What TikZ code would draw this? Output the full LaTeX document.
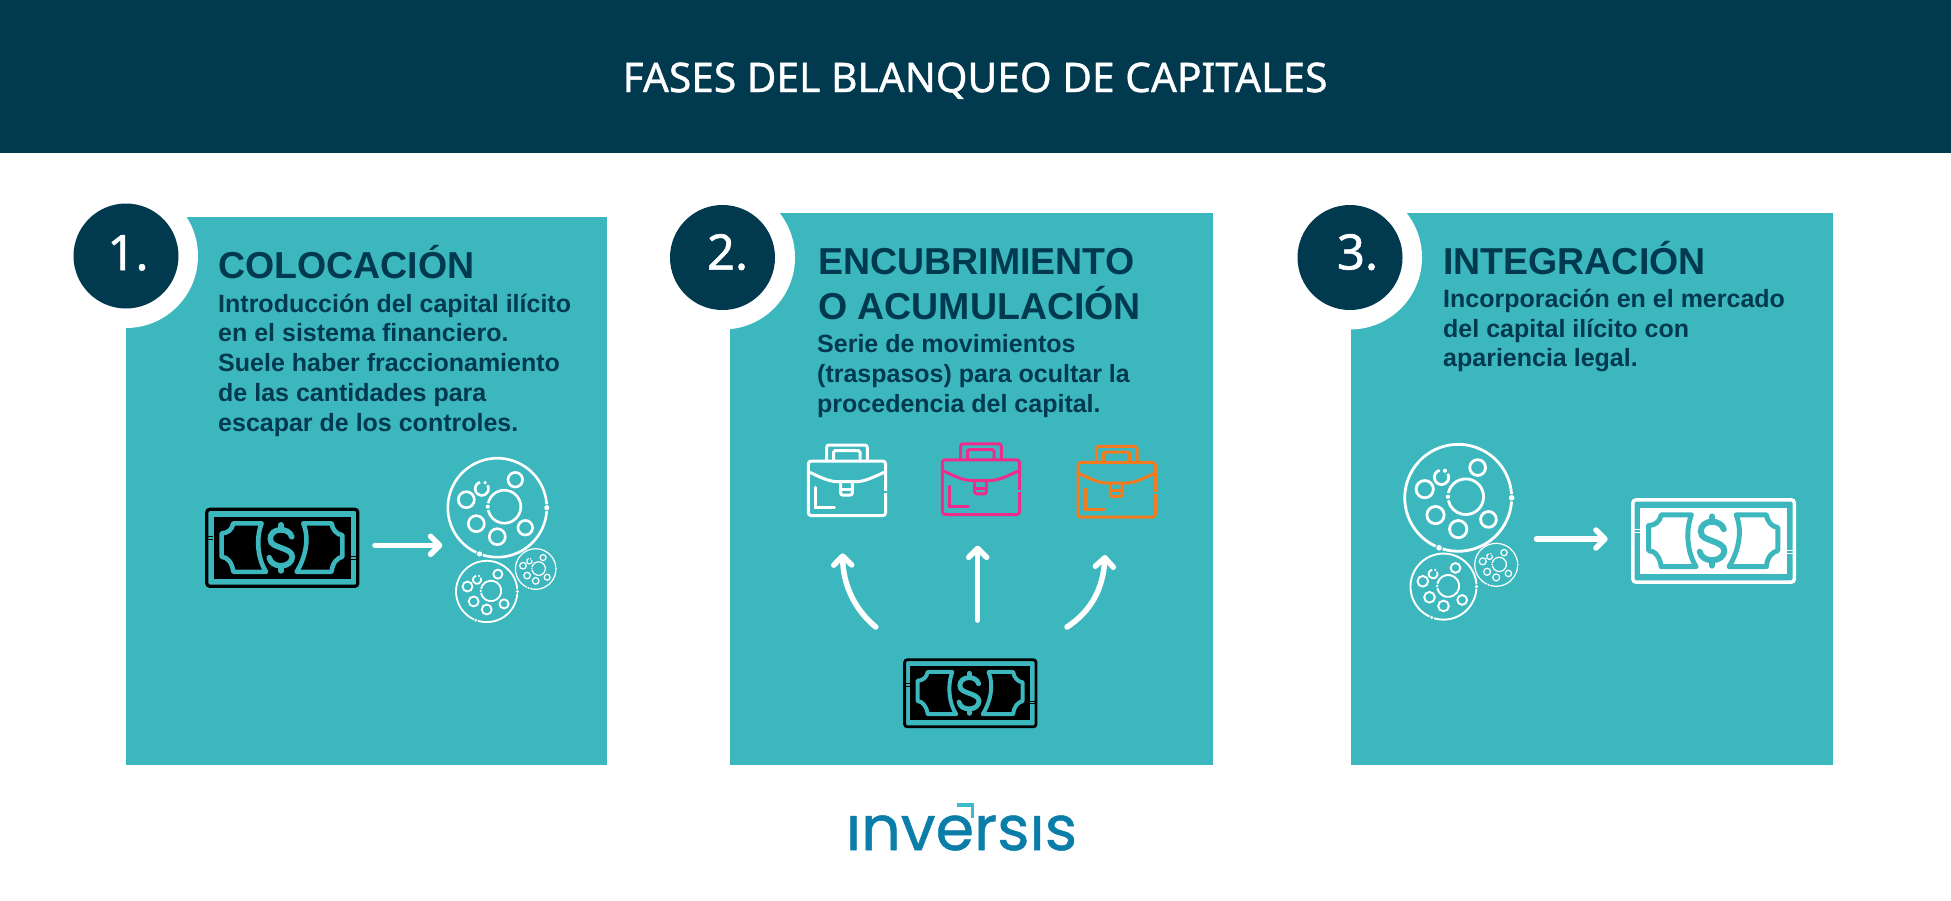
\documentclass[tikz,border=0pt]{standalone}
\usepackage{fontspec}
\setmainfont{Liberation Sans}
\newfontfamily\headfont[FakeBold=1]{Noto Sans}
\newfontfamily\logofont[FakeBold=0.8]{Poppins}
\usetikzlibrary{arrows.meta}
\definecolor{navy}{HTML}{013A4F}
\definecolor{teal}{HTML}{3DB7BE}
\definecolor{pinkc}{HTML}{EE2C8C}
\definecolor{orangec}{HTML}{F47B20}
\definecolor{logoblue}{HTML}{0A7EA8}
\definecolor{logoteal}{HTML}{3DBBD0}
\tikzset{
  panel/.style={fill=teal,draw=none},
  titletext/.style={anchor=base west,inner sep=0pt,text=navy,font=\bfseries\fontsize{37.5}{45}\selectfont},
  bodytext/.style={anchor=base west,inner sep=0pt,text=navy,align=left,font=\bfseries\fontsize{25}{29.7}\selectfont},
  numtext/.style={anchor=base,inner sep=0pt,text=white,font=\headfont\fontsize{49}{49}\selectfont},
  flowarrow/.style={draw=white,line width=5.5pt,line cap=round,-{Straight Barb[round,length=9pt,width=18pt]}},
}
% bill icon: cx, cy, scale, ink colour
\newcommand{\billicon}[4]{%
  \begin{scope}[shift={(#1,#2)},x=#3pt,y=-#3pt]
    \draw[draw=#4,fill=teal,line width=3.2*#3 pt,rounded corners=3*#3 pt] (-75.5,-38.5) rectangle (75.5,38.5);
    \fill[#4] (-68.8,-31) rectangle (68.8,31);
    \draw[teal,line width=4.6*#3 pt,line join=round] (-20.7,-24.5) -- (-49,-24.5) .. controls (-50,-18) and (-55,-14.5) .. (-60.7,-14.5) -- (-60.7,9) .. controls (-55,9) and (-50,15) .. (-49,24) -- (-16.3,24) .. controls (-24,12) and (-27,-8) .. cycle;
    \draw[teal,line width=4.6*#3 pt,line join=round] (21,-24.5) -- (49.3,-24.5) .. controls (50,-18) and (55,-13) .. (60,-12.7) -- (60,9) .. controls (55,10) and (50,15) .. (49.3,24) -- (14.3,24) .. controls (22,12) and (28,-8) .. cycle;
    \draw[teal,line width=5.6*#3 pt,line cap=round] (9.5,-11) .. controls (8,-16) and (3,-18) .. (-1.3,-18) .. controls (-8,-18) and (-12,-14) .. (-12,-9) .. controls (-12,-3) and (-6,-2) .. (-1.3,0) .. controls (4,2) and (10,4) .. (10,9) .. controls (10,14) and (5,18) .. (-1.3,18) .. controls (-7,18) and (-12,15) .. (-13,10);
    \draw[teal,line width=5.6*#3 pt,line cap=round] (-1.3,-23) -- (-1.3,-18) (-1.3,18) -- (-1.3,23);
    \draw[#4,line width=1*#3 pt] (-76,-11) -- (-69,-11) (-76,-8) -- (-69,-8) (69,9) -- (76,9) (69,12) -- (76,12);
  \end{scope}}
% coin-group wheel: cx, cy, scale, line width
\newcommand{\wheelicon}[4]{%
  \begin{scope}[shift={(#1,#2)},x=#3pt,y=-#3pt,draw=white,line width=#4pt]
    \draw (4:49.5) arc[start angle=4,end angle=107,radius=49.5];
    \draw (115:49.5) arc[start angle=115,end angle=356,radius=49.5];
    \fill[white] (0:49.5) circle[radius=2.6] (111:49.5) circle[radius=2.6];
    \draw (7,-1) ++(192:16.5) arc[start angle=192,end angle=528,radius=16.5];
    \fill[white] (7,-1) ++(180:16.5) circle[radius=2];
    \draw (18,-28) circle[radius=7.3];
    \draw (-31,-8) circle[radius=8];
    \draw (-21,16) circle[radius=8];
    \draw (0,29) circle[radius=8];
    \draw (28,20) circle[radius=7.3];
    \draw (-15.5,-19) ++(-30:6.7) arc[start angle=-30,end angle=255,radius=6.7];
    \fill[white] (-15.5,-19) ++(-62:6.9) circle[radius=1.9];
  \end{scope}}
% briefcase: left, top of body, colour
\newcommand{\caseicon}[3]{%
  \begin{scope}[shift={(#1,#2)},draw=#3,line width=3pt,line cap=round]
    \draw[rounded corners=3pt] (0,0) rectangle (77.3,54.7);
    \draw[rounded corners=2.5pt] (18.3,0) -- (18.3,-16) -- (59,-16) -- (59,0);
    \draw[rounded corners=1.5pt] (25.3,0) -- (25.3,-10.3) -- (51.7,-10.3) -- (51.7,0);
    \draw (0,10.7) .. controls (12,16) and (20,20.7) .. (30,20.7) -- (47,20.7) .. controls (57,20.7) and (65,16) .. (77.3,10.7);
    \draw[rounded corners=2pt] (32.3,20.7) -- (32.3,34) -- (44,34) -- (44,20.7);
    \draw (32.3,28.3) -- (44,28.3);
    \draw (7.3,26.3) -- (7.3,46.7) -- (26,46.7);
    \fill[teal] (75.5,29.7) rectangle (79,31.7);
  \end{scope}}
\begin{document}
\begin{tikzpicture}[x=1pt,y=-1pt]
\useasboundingbox (0,0) rectangle (1951,900);
\fill[white] (0,0) rectangle (1951,900);
% header
\fill[navy] (0,0) rectangle (1951,153.3);
\node[anchor=base,inner sep=0pt,text=white,font=\headfont\fontsize{40.7}{41}\selectfont] (head) at (975,92) {FASES DEL BLANQUEO DE CAPITALES};
% panels
\fill[panel] (126,216.7) rectangle (606.5,764.6);
\fill[panel] (730,213) rectangle (1212.5,764.6);
\fill[panel] (1351,212.5) rectangle (1832.5,764.6);
% badges
\fill[white] (126,256) circle[radius=72];
\fill[navy] (126,256) circle[radius=52.5];
\node[numtext] (n1) at (128,270) {1.};
\fill[white] (723,257.5) circle[radius=72];
\fill[navy] (722.5,257.5) circle[radius=52.5];
\node[numtext] (n2) at (727.5,269.5) {2.};
\fill[white] (1350,257.5) circle[radius=72];
\fill[navy] (1350,257.5) circle[radius=52.5];
\node[numtext] (n3) at (1357.5,269.5) {3.};
% panel 1
\node[titletext] (t1) at (218,278.7) {COLOCACIÓN};
\node[bodytext] (b1) at (218,431) {Introducción del capital ilícito\\en el sistema financiero.\\Suele haber fraccionamiento\\de las cantidades para\\escapar de los controles.};
\billicon{282.3}{547.8}{1}{black}
\wheelicon{497.3}{507.7}{1}{2.6}
\wheelicon{486.7}{591.5}{0.62}{1.8}
\wheelicon{535.7}{569}{0.41}{1.2}
\coordinate (a1s) at (375,545.3);
\coordinate (a1e) at (442.3,545.3);
\draw[flowarrow] (a1s) -- (a1e);
% panel 2
\node[titletext] (t2a) at (818,274) {ENCUBRIMIENTO};
\node[titletext] (t2b) at (818,319) {O ACUMULACIÓN};
\node[bodytext] (b2) at (817,412.2) {Serie de movimientos\\(traspasos) para ocultar la\\procedencia del capital.};
\caseicon{808.3}{461}{white}
\caseicon{942.3}{459.8}{pinkc}
\caseicon{1078}{462.4}{orangec}
\coordinate (a2s) at (875.8,627);
\coordinate (a2e) at (842.6,553.3);
\coordinate (a3s) at (977.7,620.2);
\coordinate (a3e) at (977.7,545.6);
\coordinate (a4s) at (1067,627);
\coordinate (a4e) at (1105,555);
\draw[flowarrow] (a2s) .. controls (855,610) and (843,585) .. (a2e);
\draw[flowarrow] (a3s) -- (a3e);
\draw[flowarrow] (a4s) .. controls (1090,612) and (1103,590) .. (a4e);
\billicon{970.3}{693.3}{0.87}{black}
% panel 3
\node[titletext] (t3) at (1443,274) {INTEGRACIÓN};
\node[bodytext] (b3) at (1443,366.7) {Incorporación en el mercado\\del capital ilícito con\\apariencia legal.};
\wheelicon{1458.2}{497.8}{1.08}{2.8}
\wheelicon{1443.5}{586.6}{0.667}{1.9}
\wheelicon{1496.2}{564.8}{0.434}{1.2}
\coordinate (a5s) at (1536.5,539);
\coordinate (a5e) at (1607.7,539);
\draw[flowarrow] (a5s) -- (a5e);
\billicon{1713.6}{541}{1.07}{white}
% logo
\node[anchor=base,inner sep=0pt,text=logoblue,font=\logofont\fontsize{62}{62}\selectfont] (logo) at (961.5,850) {ınversıs};
\coordinate (lg1) at (956.7,805);
\coordinate (lg2) at (972.3,805);
\coordinate (lg3) at (972.3,818);
\draw[logoteal,line width=3.5pt] (lg1) -- (lg2) -- (lg3);
\end{tikzpicture}
\end{document}
